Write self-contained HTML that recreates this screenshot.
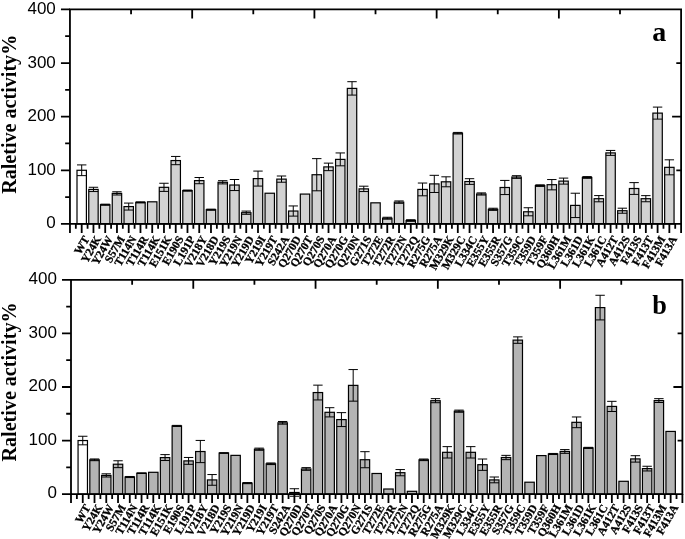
<!DOCTYPE html>
<html><head><meta charset="utf-8"><style>
html,body{margin:0;padding:0;background:#fff;}
body{width:685px;height:539px;overflow:hidden;}
svg{display:block;will-change:transform;}
.yl{font-family:"Liberation Sans",sans-serif;font-size:17px;text-anchor:end;fill:#000;}
.lt{font-family:"Liberation Serif",serif;font-weight:bold;font-size:28px;fill:#000;}
.yt{font-family:"Liberation Serif",serif;font-weight:bold;font-size:20.1px;fill:#000;}
.xl{font-family:"Liberation Serif",serif;font-weight:bold;font-size:11.5px;text-anchor:end;fill:#000;stroke:#000;stroke-width:0.3px;}
</style></head><body>
<svg width="685" height="539" viewBox="0 0 685 539">
<rect width="685" height="539" fill="#fff"/>
<rect x="77" y="170.28" width="9.4" height="53.62" fill="#fff" stroke="#000" stroke-width="1.2"/>
<rect x="88.76" y="189.42" width="9.4" height="34.48" fill="#d2d2d2" stroke="#000" stroke-width="1.2"/>
<rect x="100.51" y="204.7" width="9.4" height="19.2" fill="#d2d2d2" stroke="#000" stroke-width="1.2"/>
<rect x="112.26" y="193.39" width="9.4" height="30.51" fill="#d2d2d2" stroke="#000" stroke-width="1.2"/>
<rect x="124.01" y="206.58" width="9.4" height="17.32" fill="#d2d2d2" stroke="#000" stroke-width="1.2"/>
<rect x="135.77" y="202.4" width="9.4" height="21.5" fill="#d2d2d2" stroke="#000" stroke-width="1.2"/>
<rect x="147.52" y="201.81" width="9.4" height="22.09" fill="#d2d2d2" stroke="#000" stroke-width="1.2"/>
<rect x="159.27" y="187.33" width="9.4" height="36.57" fill="#d2d2d2" stroke="#000" stroke-width="1.2"/>
<rect x="171.03" y="160.57" width="9.4" height="63.33" fill="#d2d2d2" stroke="#000" stroke-width="1.2"/>
<rect x="182.78" y="190.6" width="9.4" height="33.3" fill="#d2d2d2" stroke="#000" stroke-width="1.2"/>
<rect x="194.53" y="180.62" width="9.4" height="43.28" fill="#d2d2d2" stroke="#000" stroke-width="1.2"/>
<rect x="206.28" y="209.69" width="9.4" height="14.21" fill="#d2d2d2" stroke="#000" stroke-width="1.2"/>
<rect x="218.04" y="182.29" width="9.4" height="41.61" fill="#d2d2d2" stroke="#000" stroke-width="1.2"/>
<rect x="229.79" y="185.02" width="9.4" height="38.88" fill="#d2d2d2" stroke="#000" stroke-width="1.2"/>
<rect x="241.54" y="212.69" width="9.4" height="11.21" fill="#d2d2d2" stroke="#000" stroke-width="1.2"/>
<rect x="253.3" y="178.59" width="9.4" height="45.31" fill="#d2d2d2" stroke="#000" stroke-width="1.2"/>
<rect x="265.05" y="193.23" width="9.4" height="30.67" fill="#d2d2d2" stroke="#000" stroke-width="1.2"/>
<rect x="276.8" y="179.12" width="9.4" height="44.78" fill="#d2d2d2" stroke="#000" stroke-width="1.2"/>
<rect x="288.55" y="211.03" width="9.4" height="12.87" fill="#d2d2d2" stroke="#000" stroke-width="1.2"/>
<rect x="300.31" y="194.08" width="9.4" height="29.82" fill="#d2d2d2" stroke="#000" stroke-width="1.2"/>
<rect x="312.06" y="174.73" width="9.4" height="49.17" fill="#d2d2d2" stroke="#000" stroke-width="1.2"/>
<rect x="323.81" y="166.9" width="9.4" height="57" fill="#d2d2d2" stroke="#000" stroke-width="1.2"/>
<rect x="335.57" y="159.39" width="9.4" height="64.51" fill="#d2d2d2" stroke="#000" stroke-width="1.2"/>
<rect x="347.32" y="88.39" width="9.4" height="135.51" fill="#d2d2d2" stroke="#000" stroke-width="1.2"/>
<rect x="359.07" y="188.88" width="9.4" height="35.02" fill="#d2d2d2" stroke="#000" stroke-width="1.2"/>
<rect x="370.82" y="202.83" width="9.4" height="21.07" fill="#d2d2d2" stroke="#000" stroke-width="1.2"/>
<rect x="382.58" y="218.22" width="9.4" height="5.68" fill="#d2d2d2" stroke="#000" stroke-width="1.2"/>
<rect x="394.33" y="202.13" width="9.4" height="21.77" fill="#d2d2d2" stroke="#000" stroke-width="1.2"/>
<rect x="406.08" y="220.52" width="9.4" height="3.38" fill="#d2d2d2" stroke="#000" stroke-width="1.2"/>
<rect x="417.84" y="189.42" width="9.4" height="34.48" fill="#d2d2d2" stroke="#000" stroke-width="1.2"/>
<rect x="429.59" y="183.9" width="9.4" height="40" fill="#d2d2d2" stroke="#000" stroke-width="1.2"/>
<rect x="441.34" y="181.8" width="9.4" height="42.1" fill="#d2d2d2" stroke="#000" stroke-width="1.2"/>
<rect x="453.1" y="133.22" width="9.4" height="90.68" fill="#d2d2d2" stroke="#000" stroke-width="1.2"/>
<rect x="464.85" y="181.54" width="9.4" height="42.36" fill="#d2d2d2" stroke="#000" stroke-width="1.2"/>
<rect x="476.6" y="193.98" width="9.4" height="29.92" fill="#d2d2d2" stroke="#000" stroke-width="1.2"/>
<rect x="488.35" y="209.31" width="9.4" height="14.59" fill="#d2d2d2" stroke="#000" stroke-width="1.2"/>
<rect x="500.11" y="187.49" width="9.4" height="36.41" fill="#d2d2d2" stroke="#000" stroke-width="1.2"/>
<rect x="511.86" y="177.03" width="9.4" height="46.87" fill="#d2d2d2" stroke="#000" stroke-width="1.2"/>
<rect x="523.61" y="211.78" width="9.4" height="12.12" fill="#d2d2d2" stroke="#000" stroke-width="1.2"/>
<rect x="535.37" y="185.61" width="9.4" height="38.29" fill="#d2d2d2" stroke="#000" stroke-width="1.2"/>
<rect x="547.12" y="184.7" width="9.4" height="39.2" fill="#d2d2d2" stroke="#000" stroke-width="1.2"/>
<rect x="558.87" y="181.11" width="9.4" height="42.79" fill="#d2d2d2" stroke="#000" stroke-width="1.2"/>
<rect x="570.62" y="205.4" width="9.4" height="18.5" fill="#d2d2d2" stroke="#000" stroke-width="1.2"/>
<rect x="582.38" y="177.46" width="9.4" height="46.44" fill="#d2d2d2" stroke="#000" stroke-width="1.2"/>
<rect x="594.13" y="198.7" width="9.4" height="25.2" fill="#d2d2d2" stroke="#000" stroke-width="1.2"/>
<rect x="605.88" y="152.9" width="9.4" height="71" fill="#d2d2d2" stroke="#000" stroke-width="1.2"/>
<rect x="617.64" y="210.71" width="9.4" height="13.19" fill="#d2d2d2" stroke="#000" stroke-width="1.2"/>
<rect x="629.39" y="188.51" width="9.4" height="35.39" fill="#d2d2d2" stroke="#000" stroke-width="1.2"/>
<rect x="641.14" y="198.7" width="9.4" height="25.2" fill="#d2d2d2" stroke="#000" stroke-width="1.2"/>
<rect x="652.89" y="113.11" width="9.4" height="110.79" fill="#d2d2d2" stroke="#000" stroke-width="1.2"/>
<rect x="664.65" y="167.33" width="9.4" height="56.57" fill="#d2d2d2" stroke="#000" stroke-width="1.2"/>
<path d="M81.7 164.91V175.64M77 164.91H86.4M77 175.64H86.4" stroke="#000" stroke-width="1.0" fill="none"/>
<path d="M93.46 187.27V191.56M88.76 187.27H98.16M88.76 191.56H98.16" stroke="#000" stroke-width="1.0" fill="none"/>
<path d="M105.21 204.17V205.24M100.51 204.17H109.91M100.51 205.24H109.91" stroke="#000" stroke-width="1.0" fill="none"/>
<path d="M116.96 191.78V195M112.26 191.78H121.66M112.26 195H121.66" stroke="#000" stroke-width="1.0" fill="none"/>
<path d="M128.71 203.09V210.06M124.01 203.09H133.41M124.01 210.06H133.41" stroke="#000" stroke-width="1.0" fill="none"/>
<path d="M140.47 201.86V202.93M135.77 201.86H145.17M135.77 202.93H145.17" stroke="#000" stroke-width="1.0" fill="none"/>
<path d="M163.97 183.25V191.4M159.27 183.25H168.67M159.27 191.4H168.67" stroke="#000" stroke-width="1.0" fill="none"/>
<path d="M175.73 156.44V164.7M171.03 156.44H180.43M171.03 164.7H180.43" stroke="#000" stroke-width="1.0" fill="none"/>
<path d="M187.48 190.06V191.14M182.78 190.06H192.18M182.78 191.14H192.18" stroke="#000" stroke-width="1.0" fill="none"/>
<path d="M199.23 177.51V183.73M194.53 177.51H203.93M194.53 183.73H203.93" stroke="#000" stroke-width="1.0" fill="none"/>
<path d="M210.98 209.15V210.23M206.28 209.15H215.68M206.28 210.23H215.68" stroke="#000" stroke-width="1.0" fill="none"/>
<path d="M222.74 180.68V183.9M218.04 180.68H227.44M218.04 183.9H227.44" stroke="#000" stroke-width="1.0" fill="none"/>
<path d="M234.49 179.5V190.55M229.79 179.5H239.19M229.79 190.55H239.19" stroke="#000" stroke-width="1.0" fill="none"/>
<path d="M246.24 211.08V214.3M241.54 211.08H250.94M241.54 214.3H250.94" stroke="#000" stroke-width="1.0" fill="none"/>
<path d="M258 171.08V186.09M253.3 171.08H262.7M253.3 186.09H262.7" stroke="#000" stroke-width="1.0" fill="none"/>
<path d="M281.5 176.01V182.23M276.8 176.01H286.2M276.8 182.23H286.2" stroke="#000" stroke-width="1.0" fill="none"/>
<path d="M293.25 205.94V216.12M288.55 205.94H297.95M288.55 216.12H297.95" stroke="#000" stroke-width="1.0" fill="none"/>
<path d="M316.76 158.64V190.81M312.06 158.64H321.46M312.06 190.81H321.46" stroke="#000" stroke-width="1.0" fill="none"/>
<path d="M328.51 163.14V170.65M323.81 163.14H333.21M323.81 170.65H333.21" stroke="#000" stroke-width="1.0" fill="none"/>
<path d="M340.27 152.95V165.82M335.57 152.95H344.97M335.57 165.82H344.97" stroke="#000" stroke-width="1.0" fill="none"/>
<path d="M352.02 81.69V95.09M347.32 81.69H356.72M347.32 95.09H356.72" stroke="#000" stroke-width="1.0" fill="none"/>
<path d="M363.77 186.2V191.56M359.07 186.2H368.47M359.07 191.56H368.47" stroke="#000" stroke-width="1.0" fill="none"/>
<path d="M387.28 217.25V219.18M382.58 217.25H391.98M382.58 219.18H391.98" stroke="#000" stroke-width="1.0" fill="none"/>
<path d="M399.03 200.95V203.31M394.33 200.95H403.73M394.33 203.31H403.73" stroke="#000" stroke-width="1.0" fill="none"/>
<path d="M410.78 219.72V221.33M406.08 219.72H415.48M406.08 221.33H415.48" stroke="#000" stroke-width="1.0" fill="none"/>
<path d="M422.54 183.04V195.8M417.84 183.04H427.24M417.84 195.8H427.24" stroke="#000" stroke-width="1.0" fill="none"/>
<path d="M434.29 175.32V192.48M429.59 175.32H438.99M429.59 192.48H438.99" stroke="#000" stroke-width="1.0" fill="none"/>
<path d="M446.04 176.82V186.79M441.34 176.82H450.74M441.34 186.79H450.74" stroke="#000" stroke-width="1.0" fill="none"/>
<path d="M457.8 132.42V134.02M453.1 132.42H462.5M453.1 134.02H462.5" stroke="#000" stroke-width="1.0" fill="none"/>
<path d="M469.55 178.69V184.38M464.85 178.69H474.25M464.85 184.38H474.25" stroke="#000" stroke-width="1.0" fill="none"/>
<path d="M481.3 192.9V195.05M476.6 192.9H486M476.6 195.05H486" stroke="#000" stroke-width="1.0" fill="none"/>
<path d="M493.05 208.24V210.39M488.35 208.24H497.75M488.35 210.39H497.75" stroke="#000" stroke-width="1.0" fill="none"/>
<path d="M504.81 180.41V194.57M500.11 180.41H509.51M500.11 194.57H509.51" stroke="#000" stroke-width="1.0" fill="none"/>
<path d="M516.56 175.69V178.37M511.86 175.69H521.26M511.86 178.37H521.26" stroke="#000" stroke-width="1.0" fill="none"/>
<path d="M528.31 207.76V215.8M523.61 207.76H533.01M523.61 215.8H533.01" stroke="#000" stroke-width="1.0" fill="none"/>
<path d="M540.07 184.81V186.42M535.37 184.81H544.77M535.37 186.42H544.77" stroke="#000" stroke-width="1.0" fill="none"/>
<path d="M551.82 179.55V189.85M547.12 179.55H556.52M547.12 189.85H556.52" stroke="#000" stroke-width="1.0" fill="none"/>
<path d="M563.57 178.1V184.11M558.87 178.1H568.27M558.87 184.11H568.27" stroke="#000" stroke-width="1.0" fill="none"/>
<path d="M575.32 193.23V217.57M570.62 193.23H580.02M570.62 217.57H580.02" stroke="#000" stroke-width="1.0" fill="none"/>
<path d="M587.08 176.6V178.32M582.38 176.6H591.78M582.38 178.32H591.78" stroke="#000" stroke-width="1.0" fill="none"/>
<path d="M598.83 195.59V201.81M594.13 195.59H603.53M594.13 201.81H603.53" stroke="#000" stroke-width="1.0" fill="none"/>
<path d="M610.58 150.43V155.37M605.88 150.43H615.28M605.88 155.37H615.28" stroke="#000" stroke-width="1.0" fill="none"/>
<path d="M622.34 208.19V213.23M617.64 208.19H627.04M617.64 213.23H627.04" stroke="#000" stroke-width="1.0" fill="none"/>
<path d="M634.09 182.61V194.41M629.39 182.61H638.79M629.39 194.41H638.79" stroke="#000" stroke-width="1.0" fill="none"/>
<path d="M645.84 195.64V201.75M641.14 195.64H650.54M641.14 201.75H650.54" stroke="#000" stroke-width="1.0" fill="none"/>
<path d="M657.59 107.1V119.12M652.89 107.1H662.29M652.89 119.12H662.29" stroke="#000" stroke-width="1.0" fill="none"/>
<path d="M669.35 159.82V174.83M664.65 159.82H674.05M664.65 174.83H674.05" stroke="#000" stroke-width="1.0" fill="none"/>
<path d="M69.95 9.4H681.1V223.9H69.95Z" stroke="#000" stroke-width="1.8" fill="none" stroke-linecap="square"/>
<path d="M69.95 223.9H60.95M69.95 197.09H65.15M69.95 170.28H60.95M69.95 143.46H65.15M69.95 116.65H60.95M69.95 89.84H65.15M69.95 63.03H60.95M69.95 36.21H65.15M69.95 9.4H60.95M681.1 170.28H676.3M681.1 116.65H672.1M681.1 63.03H676.3M69.95 223.9V232.9M75.83 223.9V228.7M81.7 223.9V232.9M87.58 223.9V228.7M93.46 223.9V232.9M99.33 223.9V228.7M105.21 223.9V232.9M111.09 223.9V228.7M116.96 223.9V232.9M122.84 223.9V228.7M128.71 223.9V232.9M134.59 223.9V228.7M140.47 223.9V232.9M146.34 223.9V228.7M152.22 223.9V232.9M158.1 223.9V228.7M163.97 223.9V232.9M169.85 223.9V228.7M175.73 223.9V232.9M181.6 223.9V228.7M187.48 223.9V232.9M193.36 223.9V228.7M199.23 223.9V232.9M205.11 223.9V228.7M210.98 223.9V232.9M216.86 223.9V228.7M222.74 223.9V232.9M228.61 223.9V228.7M234.49 223.9V232.9M240.37 223.9V228.7M246.24 223.9V232.9M252.12 223.9V228.7M258 223.9V232.9M263.87 223.9V228.7M269.75 223.9V232.9M275.63 223.9V228.7M281.5 223.9V232.9M287.38 223.9V228.7M293.25 223.9V232.9M299.13 223.9V228.7M305.01 223.9V232.9M310.88 223.9V228.7M316.76 223.9V232.9M322.64 223.9V228.7M328.51 223.9V232.9M334.39 223.9V228.7M340.27 223.9V232.9M346.14 223.9V228.7M352.02 223.9V232.9M357.9 223.9V228.7M363.77 223.9V232.9M369.65 223.9V228.7M375.52 223.9V232.9M381.4 223.9V228.7M387.28 223.9V232.9M393.15 223.9V228.7M399.03 223.9V232.9M404.91 223.9V228.7M410.78 223.9V232.9M416.66 223.9V228.7M422.54 223.9V232.9M428.41 223.9V228.7M434.29 223.9V232.9M440.17 223.9V228.7M446.04 223.9V232.9M451.92 223.9V228.7M457.8 223.9V232.9M463.67 223.9V228.7M469.55 223.9V232.9M475.42 223.9V228.7M481.3 223.9V232.9M487.18 223.9V228.7M493.05 223.9V232.9M498.93 223.9V228.7M504.81 223.9V232.9M510.68 223.9V228.7M516.56 223.9V232.9M522.44 223.9V228.7M528.31 223.9V232.9M534.19 223.9V228.7M540.07 223.9V232.9M545.94 223.9V228.7M551.82 223.9V232.9M557.69 223.9V228.7M563.57 223.9V232.9M569.45 223.9V228.7M575.32 223.9V232.9M581.2 223.9V228.7M587.08 223.9V232.9M592.95 223.9V228.7M598.83 223.9V232.9M604.71 223.9V228.7M610.58 223.9V232.9M616.46 223.9V228.7M622.34 223.9V232.9M628.21 223.9V228.7M634.09 223.9V232.9M639.96 223.9V228.7M645.84 223.9V232.9M651.72 223.9V228.7M657.59 223.9V232.9M663.47 223.9V228.7M669.35 223.9V232.9M675.22 223.9V228.7M681.1 223.9V232.9M131.06 9.4V14.2M192.18 9.4V18.4M253.29 9.4V14.2M314.41 9.4V18.4M375.52 9.4V14.2M436.64 9.4V18.4M497.75 9.4V14.2M558.87 9.4V18.4M619.99 9.4V14.2" stroke="#000" stroke-width="1.8" fill="none"/>
<text x="55.8" y="228.4" class="yl">0</text>
<text x="55.8" y="174.78" class="yl">100</text>
<text x="55.8" y="121.15" class="yl">200</text>
<text x="55.8" y="67.53" class="yl">300</text>
<text x="55.8" y="13.9" class="yl">400</text>
<text transform="translate(652.3 41.2) scale(1.0 1)" class="lt">a</text>
<text transform="translate(15.8 193.8) rotate(-90)" class="yt">Raletive activity%</text>
<text transform="translate(89.8 238.75) rotate(-60)" class="xl">WT</text>
<text transform="translate(101.56 238.75) rotate(-60)" class="xl">Y24K</text>
<text transform="translate(113.31 238.75) rotate(-60)" class="xl">Y24W</text>
<text transform="translate(125.06 238.75) rotate(-60)" class="xl">S57M</text>
<text transform="translate(136.81 238.75) rotate(-60)" class="xl">T114N</text>
<text transform="translate(148.57 238.75) rotate(-60)" class="xl">T114R</text>
<text transform="translate(160.32 238.75) rotate(-60)" class="xl">T114K</text>
<text transform="translate(172.07 238.75) rotate(-60)" class="xl">E151K</text>
<text transform="translate(183.83 238.75) rotate(-60)" class="xl">E190S</text>
<text transform="translate(195.58 238.75) rotate(-60)" class="xl">L191P</text>
<text transform="translate(207.33 238.75) rotate(-60)" class="xl">V218Y</text>
<text transform="translate(219.08 238.75) rotate(-60)" class="xl">V218D</text>
<text transform="translate(230.84 238.75) rotate(-60)" class="xl">Y219S</text>
<text transform="translate(242.59 238.75) rotate(-60)" class="xl">Y219N</text>
<text transform="translate(254.34 238.75) rotate(-60)" class="xl">Y219D</text>
<text transform="translate(266.1 238.75) rotate(-60)" class="xl">Y219I</text>
<text transform="translate(277.85 238.75) rotate(-60)" class="xl">Y219T</text>
<text transform="translate(289.6 238.75) rotate(-60)" class="xl">S242A</text>
<text transform="translate(301.35 238.75) rotate(-60)" class="xl">Q270D</text>
<text transform="translate(313.11 238.75) rotate(-60)" class="xl">Q270T</text>
<text transform="translate(324.86 238.75) rotate(-60)" class="xl">Q270S</text>
<text transform="translate(336.61 238.75) rotate(-60)" class="xl">Q270A</text>
<text transform="translate(348.37 238.75) rotate(-60)" class="xl">Q270G</text>
<text transform="translate(360.12 238.75) rotate(-60)" class="xl">Q270N</text>
<text transform="translate(371.87 238.75) rotate(-60)" class="xl">G271S</text>
<text transform="translate(383.62 238.75) rotate(-60)" class="xl">T272E</text>
<text transform="translate(395.38 238.75) rotate(-60)" class="xl">T272R</text>
<text transform="translate(407.13 238.75) rotate(-60)" class="xl">T272N</text>
<text transform="translate(418.88 238.75) rotate(-60)" class="xl">T272Q</text>
<text transform="translate(430.64 238.75) rotate(-60)" class="xl">R275G</text>
<text transform="translate(442.39 238.75) rotate(-60)" class="xl">R275A</text>
<text transform="translate(454.14 238.75) rotate(-60)" class="xl">M329K</text>
<text transform="translate(465.9 238.75) rotate(-60)" class="xl">M329C</text>
<text transform="translate(477.65 238.75) rotate(-60)" class="xl">L334C</text>
<text transform="translate(489.4 238.75) rotate(-60)" class="xl">E355Y</text>
<text transform="translate(501.15 238.75) rotate(-60)" class="xl">E355R</text>
<text transform="translate(512.91 238.75) rotate(-60)" class="xl">S357G</text>
<text transform="translate(524.66 238.75) rotate(-60)" class="xl">T359C</text>
<text transform="translate(536.41 238.75) rotate(-60)" class="xl">T359D</text>
<text transform="translate(548.17 238.75) rotate(-60)" class="xl">T359F</text>
<text transform="translate(559.92 238.75) rotate(-60)" class="xl">Q360H</text>
<text transform="translate(571.67 238.75) rotate(-60)" class="xl">L361M</text>
<text transform="translate(583.42 238.75) rotate(-60)" class="xl">L361D</text>
<text transform="translate(595.18 238.75) rotate(-60)" class="xl">L361K</text>
<text transform="translate(606.93 238.75) rotate(-60)" class="xl">L361C</text>
<text transform="translate(618.68 238.75) rotate(-60)" class="xl">A412T</text>
<text transform="translate(630.44 238.75) rotate(-60)" class="xl">A412S</text>
<text transform="translate(642.19 238.75) rotate(-60)" class="xl">F413S</text>
<text transform="translate(653.94 238.75) rotate(-60)" class="xl">F413T</text>
<text transform="translate(665.69 238.75) rotate(-60)" class="xl">F413M</text>
<text transform="translate(677.45 238.75) rotate(-60)" class="xl">F413A</text>
<rect x="78.06" y="440.54" width="9.4" height="53.56" fill="#fff" stroke="#000" stroke-width="1.2"/>
<rect x="89.82" y="459.82" width="9.4" height="34.28" fill="#b4b4b4" stroke="#000" stroke-width="1.2"/>
<rect x="101.57" y="475.41" width="9.4" height="18.69" fill="#b4b4b4" stroke="#000" stroke-width="1.2"/>
<rect x="113.33" y="464.21" width="9.4" height="29.89" fill="#b4b4b4" stroke="#000" stroke-width="1.2"/>
<rect x="125.09" y="477.01" width="9.4" height="17.09" fill="#b4b4b4" stroke="#000" stroke-width="1.2"/>
<rect x="136.85" y="473.21" width="9.4" height="20.89" fill="#b4b4b4" stroke="#000" stroke-width="1.2"/>
<rect x="148.6" y="472.3" width="9.4" height="21.8" fill="#b4b4b4" stroke="#000" stroke-width="1.2"/>
<rect x="160.36" y="457.57" width="9.4" height="36.53" fill="#b4b4b4" stroke="#000" stroke-width="1.2"/>
<rect x="172.12" y="425.91" width="9.4" height="68.19" fill="#b4b4b4" stroke="#000" stroke-width="1.2"/>
<rect x="183.88" y="460.89" width="9.4" height="33.21" fill="#b4b4b4" stroke="#000" stroke-width="1.2"/>
<rect x="195.63" y="451.52" width="9.4" height="42.58" fill="#b4b4b4" stroke="#000" stroke-width="1.2"/>
<rect x="207.39" y="479.91" width="9.4" height="14.19" fill="#b4b4b4" stroke="#000" stroke-width="1.2"/>
<rect x="219.15" y="453.02" width="9.4" height="41.08" fill="#b4b4b4" stroke="#000" stroke-width="1.2"/>
<rect x="230.91" y="455.37" width="9.4" height="38.73" fill="#b4b4b4" stroke="#000" stroke-width="1.2"/>
<rect x="242.67" y="483.12" width="9.4" height="10.98" fill="#b4b4b4" stroke="#000" stroke-width="1.2"/>
<rect x="254.42" y="449.21" width="9.4" height="44.89" fill="#b4b4b4" stroke="#000" stroke-width="1.2"/>
<rect x="266.18" y="463.78" width="9.4" height="30.32" fill="#b4b4b4" stroke="#000" stroke-width="1.2"/>
<rect x="277.94" y="422.81" width="9.4" height="71.29" fill="#b4b4b4" stroke="#000" stroke-width="1.2"/>
<rect x="289.7" y="492.49" width="9.4" height="1.61" fill="#b4b4b4" stroke="#000" stroke-width="1.2"/>
<rect x="301.45" y="468.98" width="9.4" height="25.12" fill="#b4b4b4" stroke="#000" stroke-width="1.2"/>
<rect x="313.21" y="392.55" width="9.4" height="101.55" fill="#b4b4b4" stroke="#000" stroke-width="1.2"/>
<rect x="324.97" y="412.31" width="9.4" height="81.79" fill="#b4b4b4" stroke="#000" stroke-width="1.2"/>
<rect x="336.73" y="419.59" width="9.4" height="74.51" fill="#b4b4b4" stroke="#000" stroke-width="1.2"/>
<rect x="348.48" y="385.37" width="9.4" height="108.73" fill="#b4b4b4" stroke="#000" stroke-width="1.2"/>
<rect x="360.24" y="459.71" width="9.4" height="34.39" fill="#b4b4b4" stroke="#000" stroke-width="1.2"/>
<rect x="372" y="473.48" width="9.4" height="20.62" fill="#b4b4b4" stroke="#000" stroke-width="1.2"/>
<rect x="383.76" y="489.01" width="9.4" height="5.09" fill="#b4b4b4" stroke="#000" stroke-width="1.2"/>
<rect x="395.52" y="472.68" width="9.4" height="21.43" fill="#b4b4b4" stroke="#000" stroke-width="1.2"/>
<rect x="407.27" y="491.31" width="9.4" height="2.79" fill="#b4b4b4" stroke="#000" stroke-width="1.2"/>
<rect x="419.03" y="459.82" width="9.4" height="34.28" fill="#b4b4b4" stroke="#000" stroke-width="1.2"/>
<rect x="430.79" y="400.69" width="9.4" height="93.41" fill="#b4b4b4" stroke="#000" stroke-width="1.2"/>
<rect x="442.55" y="452.32" width="9.4" height="41.78" fill="#b4b4b4" stroke="#000" stroke-width="1.2"/>
<rect x="454.3" y="411.19" width="9.4" height="82.91" fill="#b4b4b4" stroke="#000" stroke-width="1.2"/>
<rect x="466.06" y="452.32" width="9.4" height="41.78" fill="#b4b4b4" stroke="#000" stroke-width="1.2"/>
<rect x="477.82" y="464.69" width="9.4" height="29.41" fill="#b4b4b4" stroke="#000" stroke-width="1.2"/>
<rect x="489.58" y="479.91" width="9.4" height="14.19" fill="#b4b4b4" stroke="#000" stroke-width="1.2"/>
<rect x="501.33" y="457.52" width="9.4" height="36.58" fill="#b4b4b4" stroke="#000" stroke-width="1.2"/>
<rect x="513.09" y="340.11" width="9.4" height="153.99" fill="#b4b4b4" stroke="#000" stroke-width="1.2"/>
<rect x="524.85" y="482.21" width="9.4" height="11.89" fill="#b4b4b4" stroke="#000" stroke-width="1.2"/>
<rect x="536.61" y="455.59" width="9.4" height="38.51" fill="#b4b4b4" stroke="#000" stroke-width="1.2"/>
<rect x="548.37" y="453.98" width="9.4" height="40.12" fill="#b4b4b4" stroke="#000" stroke-width="1.2"/>
<rect x="560.12" y="451.46" width="9.4" height="42.64" fill="#b4b4b4" stroke="#000" stroke-width="1.2"/>
<rect x="571.88" y="422.33" width="9.4" height="71.77" fill="#b4b4b4" stroke="#000" stroke-width="1.2"/>
<rect x="583.64" y="447.88" width="9.4" height="46.22" fill="#b4b4b4" stroke="#000" stroke-width="1.2"/>
<rect x="595.4" y="307.6" width="9.4" height="186.5" fill="#b4b4b4" stroke="#000" stroke-width="1.2"/>
<rect x="607.15" y="406.42" width="9.4" height="87.68" fill="#b4b4b4" stroke="#000" stroke-width="1.2"/>
<rect x="618.91" y="481.3" width="9.4" height="12.8" fill="#b4b4b4" stroke="#000" stroke-width="1.2"/>
<rect x="630.67" y="458.91" width="9.4" height="35.19" fill="#b4b4b4" stroke="#000" stroke-width="1.2"/>
<rect x="642.43" y="468.6" width="9.4" height="25.5" fill="#b4b4b4" stroke="#000" stroke-width="1.2"/>
<rect x="654.18" y="400.58" width="9.4" height="93.52" fill="#b4b4b4" stroke="#000" stroke-width="1.2"/>
<rect x="665.94" y="431.43" width="9.4" height="62.67" fill="#b4b4b4" stroke="#000" stroke-width="1.2"/>
<path d="M82.76 436.25V444.82M78.06 436.25H87.46M78.06 444.82H87.46" stroke="#000" stroke-width="1.0" fill="none"/>
<path d="M94.52 458.96V460.68M89.82 458.96H99.22M89.82 460.68H99.22" stroke="#000" stroke-width="1.0" fill="none"/>
<path d="M106.27 473.8V477.01M101.57 473.8H110.97M101.57 477.01H110.97" stroke="#000" stroke-width="1.0" fill="none"/>
<path d="M118.03 460.78V467.64M113.33 460.78H122.73M113.33 467.64H122.73" stroke="#000" stroke-width="1.0" fill="none"/>
<path d="M129.79 476.48V477.55M125.09 476.48H134.49M125.09 477.55H134.49" stroke="#000" stroke-width="1.0" fill="none"/>
<path d="M141.55 472.94V473.48M136.85 472.94H146.25M136.85 473.48H146.25" stroke="#000" stroke-width="1.0" fill="none"/>
<path d="M165.06 454.62V460.52M160.36 454.62H169.76M160.36 460.52H169.76" stroke="#000" stroke-width="1.0" fill="none"/>
<path d="M176.82 425.38V426.45M172.12 425.38H181.52M172.12 426.45H181.52" stroke="#000" stroke-width="1.0" fill="none"/>
<path d="M188.58 457.46V464.32M183.88 457.46H193.28M183.88 464.32H193.28" stroke="#000" stroke-width="1.0" fill="none"/>
<path d="M200.33 440.43V462.61M195.63 440.43H205.03M195.63 462.61H205.03" stroke="#000" stroke-width="1.0" fill="none"/>
<path d="M212.09 474.55V485.26M207.39 474.55H216.79M207.39 485.26H216.79" stroke="#000" stroke-width="1.0" fill="none"/>
<path d="M223.85 452.75V453.29M219.15 452.75H228.55M219.15 453.29H228.55" stroke="#000" stroke-width="1.0" fill="none"/>
<path d="M247.37 482.58V483.66M242.67 482.58H252.07M242.67 483.66H252.07" stroke="#000" stroke-width="1.0" fill="none"/>
<path d="M259.12 448.14V450.29M254.42 448.14H263.82M254.42 450.29H263.82" stroke="#000" stroke-width="1.0" fill="none"/>
<path d="M270.88 462.98V464.59M266.18 462.98H275.58M266.18 464.59H275.58" stroke="#000" stroke-width="1.0" fill="none"/>
<path d="M282.64 421.47V424.15M277.94 421.47H287.34M277.94 424.15H287.34" stroke="#000" stroke-width="1.0" fill="none"/>
<path d="M294.4 488.74V496.24M289.7 488.74H299.1M289.7 496.24H299.1" stroke="#000" stroke-width="1.0" fill="none"/>
<path d="M306.15 467.64V470.32M301.45 467.64H310.85M301.45 470.32H310.85" stroke="#000" stroke-width="1.0" fill="none"/>
<path d="M317.91 385.15V399.94M313.21 385.15H322.61M313.21 399.94H322.61" stroke="#000" stroke-width="1.0" fill="none"/>
<path d="M329.67 407.7V416.92M324.97 407.7H334.37M324.97 416.92H334.37" stroke="#000" stroke-width="1.0" fill="none"/>
<path d="M341.43 412.63V426.56M336.73 412.63H346.13M336.73 426.56H346.13" stroke="#000" stroke-width="1.0" fill="none"/>
<path d="M353.18 369.57V401.17M348.48 369.57H357.88M348.48 401.17H357.88" stroke="#000" stroke-width="1.0" fill="none"/>
<path d="M364.94 451.68V467.75M360.24 451.68H369.64M360.24 467.75H369.64" stroke="#000" stroke-width="1.0" fill="none"/>
<path d="M400.22 469.57V475.78M395.52 469.57H404.92M395.52 475.78H404.92" stroke="#000" stroke-width="1.0" fill="none"/>
<path d="M423.73 459.02V460.62M419.03 459.02H428.43M419.03 460.62H428.43" stroke="#000" stroke-width="1.0" fill="none"/>
<path d="M435.49 398.65V402.72M430.79 398.65H440.19M430.79 402.72H440.19" stroke="#000" stroke-width="1.0" fill="none"/>
<path d="M447.25 446.64V458M442.55 446.64H451.95M442.55 458H451.95" stroke="#000" stroke-width="1.0" fill="none"/>
<path d="M459 410.11V412.26M454.3 410.11H463.7M454.3 412.26H463.7" stroke="#000" stroke-width="1.0" fill="none"/>
<path d="M470.76 446.64V458M466.06 446.64H475.46M466.06 458H475.46" stroke="#000" stroke-width="1.0" fill="none"/>
<path d="M482.52 459.02V470.37M477.82 459.02H487.22M477.82 470.37H487.22" stroke="#000" stroke-width="1.0" fill="none"/>
<path d="M494.28 477.01V482.8M489.58 477.01H498.98M489.58 482.8H498.98" stroke="#000" stroke-width="1.0" fill="none"/>
<path d="M506.03 455.37V459.66M501.33 455.37H510.73M501.33 459.66H510.73" stroke="#000" stroke-width="1.0" fill="none"/>
<path d="M517.79 336.89V343.32M513.09 336.89H522.49M513.09 343.32H522.49" stroke="#000" stroke-width="1.0" fill="none"/>
<path d="M553.07 453.45V454.52M548.37 453.45H557.77M548.37 454.52H557.77" stroke="#000" stroke-width="1.0" fill="none"/>
<path d="M564.82 449.59V453.34M560.12 449.59H569.52M560.12 453.34H569.52" stroke="#000" stroke-width="1.0" fill="none"/>
<path d="M576.58 416.97V427.68M571.88 416.97H581.28M571.88 427.68H581.28" stroke="#000" stroke-width="1.0" fill="none"/>
<path d="M588.34 447.34V448.41M583.64 447.34H593.04M583.64 448.41H593.04" stroke="#000" stroke-width="1.0" fill="none"/>
<path d="M600.1 295.28V319.91M595.4 295.28H604.8M595.4 319.91H604.8" stroke="#000" stroke-width="1.0" fill="none"/>
<path d="M611.85 401.33V411.51M607.15 401.33H616.55M607.15 411.51H616.55" stroke="#000" stroke-width="1.0" fill="none"/>
<path d="M635.37 455.7V462.12M630.67 455.7H640.07M630.67 462.12H640.07" stroke="#000" stroke-width="1.0" fill="none"/>
<path d="M647.13 466.25V470.96M642.43 466.25H651.83M642.43 470.96H651.83" stroke="#000" stroke-width="1.0" fill="none"/>
<path d="M658.88 398.65V402.51M654.18 398.65H663.58M654.18 402.51H663.58" stroke="#000" stroke-width="1.0" fill="none"/>
<path d="M71 279.85H682.4V494.1H71Z" stroke="#000" stroke-width="1.8" fill="none" stroke-linecap="square"/>
<path d="M71 494.1H62M71 467.32H66.2M71 440.54H62M71 413.76H66.2M71 386.98H62M71 360.19H66.2M71 333.41H62M71 306.63H66.2M71 279.85H62M682.4 440.54H677.6M682.4 386.98H673.4M682.4 333.41H677.6M71 494.1V503.1M76.88 494.1V498.9M82.76 494.1V503.1M88.64 494.1V498.9M94.52 494.1V503.1M100.39 494.1V498.9M106.27 494.1V503.1M112.15 494.1V498.9M118.03 494.1V503.1M123.91 494.1V498.9M129.79 494.1V503.1M135.67 494.1V498.9M141.55 494.1V503.1M147.43 494.1V498.9M153.3 494.1V503.1M159.18 494.1V498.9M165.06 494.1V503.1M170.94 494.1V498.9M176.82 494.1V503.1M182.7 494.1V498.9M188.58 494.1V503.1M194.46 494.1V498.9M200.33 494.1V503.1M206.21 494.1V498.9M212.09 494.1V503.1M217.97 494.1V498.9M223.85 494.1V503.1M229.73 494.1V498.9M235.61 494.1V503.1M241.49 494.1V498.9M247.37 494.1V503.1M253.24 494.1V498.9M259.12 494.1V503.1M265 494.1V498.9M270.88 494.1V503.1M276.76 494.1V498.9M282.64 494.1V503.1M288.52 494.1V498.9M294.4 494.1V503.1M300.27 494.1V498.9M306.15 494.1V503.1M312.03 494.1V498.9M317.91 494.1V503.1M323.79 494.1V498.9M329.67 494.1V503.1M335.55 494.1V498.9M341.43 494.1V503.1M347.31 494.1V498.9M353.18 494.1V503.1M359.06 494.1V498.9M364.94 494.1V503.1M370.82 494.1V498.9M376.7 494.1V503.1M382.58 494.1V498.9M388.46 494.1V503.1M394.34 494.1V498.9M400.22 494.1V503.1M406.09 494.1V498.9M411.97 494.1V503.1M417.85 494.1V498.9M423.73 494.1V503.1M429.61 494.1V498.9M435.49 494.1V503.1M441.37 494.1V498.9M447.25 494.1V503.1M453.12 494.1V498.9M459 494.1V503.1M464.88 494.1V498.9M470.76 494.1V503.1M476.64 494.1V498.9M482.52 494.1V503.1M488.4 494.1V498.9M494.28 494.1V503.1M500.16 494.1V498.9M506.03 494.1V503.1M511.91 494.1V498.9M517.79 494.1V503.1M523.67 494.1V498.9M529.55 494.1V503.1M535.43 494.1V498.9M541.31 494.1V503.1M547.19 494.1V498.9M553.07 494.1V503.1M558.94 494.1V498.9M564.82 494.1V503.1M570.7 494.1V498.9M576.58 494.1V503.1M582.46 494.1V498.9M588.34 494.1V503.1M594.22 494.1V498.9M600.1 494.1V503.1M605.98 494.1V498.9M611.85 494.1V503.1M617.73 494.1V498.9M623.61 494.1V503.1M629.49 494.1V498.9M635.37 494.1V503.1M641.25 494.1V498.9M647.13 494.1V503.1M653.01 494.1V498.9M658.88 494.1V503.1M664.76 494.1V498.9M670.64 494.1V503.1M676.52 494.1V498.9M682.4 494.1V503.1M132.14 279.85V284.65M193.28 279.85V288.85M254.42 279.85V284.65M315.56 279.85V288.85M376.7 279.85V284.65M437.84 279.85V288.85M498.98 279.85V284.65M560.12 279.85V288.85M621.26 279.85V284.65" stroke="#000" stroke-width="1.8" fill="none"/>
<text x="56.9" y="498.4" class="yl">0</text>
<text x="56.9" y="444.84" class="yl">100</text>
<text x="56.9" y="391.28" class="yl">200</text>
<text x="56.9" y="337.71" class="yl">300</text>
<text x="56.9" y="284.15" class="yl">400</text>
<text transform="translate(652.2 313.8) scale(0.94 1)" class="lt">b</text>
<text transform="translate(15.8 461.5) rotate(-90)" class="yt">Raletive activity%</text>
<text transform="translate(90.86 507.35) rotate(-60)" class="xl">WT</text>
<text transform="translate(102.62 507.35) rotate(-60)" class="xl">Y24K</text>
<text transform="translate(114.37 507.35) rotate(-60)" class="xl">Y24W</text>
<text transform="translate(126.13 507.35) rotate(-60)" class="xl">S57M</text>
<text transform="translate(137.89 507.35) rotate(-60)" class="xl">T114N</text>
<text transform="translate(149.65 507.35) rotate(-60)" class="xl">T114R</text>
<text transform="translate(161.4 507.35) rotate(-60)" class="xl">T114K</text>
<text transform="translate(173.16 507.35) rotate(-60)" class="xl">E151K</text>
<text transform="translate(184.92 507.35) rotate(-60)" class="xl">E190S</text>
<text transform="translate(196.68 507.35) rotate(-60)" class="xl">L191P</text>
<text transform="translate(208.43 507.35) rotate(-60)" class="xl">V218Y</text>
<text transform="translate(220.19 507.35) rotate(-60)" class="xl">V218D</text>
<text transform="translate(231.95 507.35) rotate(-60)" class="xl">Y219S</text>
<text transform="translate(243.71 507.35) rotate(-60)" class="xl">Y219N</text>
<text transform="translate(255.47 507.35) rotate(-60)" class="xl">Y219D</text>
<text transform="translate(267.22 507.35) rotate(-60)" class="xl">Y219I</text>
<text transform="translate(278.98 507.35) rotate(-60)" class="xl">Y219T</text>
<text transform="translate(290.74 507.35) rotate(-60)" class="xl">S242A</text>
<text transform="translate(302.5 507.35) rotate(-60)" class="xl">Q270D</text>
<text transform="translate(314.25 507.35) rotate(-60)" class="xl">Q270T</text>
<text transform="translate(326.01 507.35) rotate(-60)" class="xl">Q270S</text>
<text transform="translate(337.77 507.35) rotate(-60)" class="xl">Q270A</text>
<text transform="translate(349.53 507.35) rotate(-60)" class="xl">Q270G</text>
<text transform="translate(361.28 507.35) rotate(-60)" class="xl">Q270N</text>
<text transform="translate(373.04 507.35) rotate(-60)" class="xl">G271S</text>
<text transform="translate(384.8 507.35) rotate(-60)" class="xl">T272E</text>
<text transform="translate(396.56 507.35) rotate(-60)" class="xl">T272R</text>
<text transform="translate(408.32 507.35) rotate(-60)" class="xl">T272N</text>
<text transform="translate(420.07 507.35) rotate(-60)" class="xl">T272Q</text>
<text transform="translate(431.83 507.35) rotate(-60)" class="xl">R275G</text>
<text transform="translate(443.59 507.35) rotate(-60)" class="xl">R275A</text>
<text transform="translate(455.35 507.35) rotate(-60)" class="xl">M329K</text>
<text transform="translate(467.1 507.35) rotate(-60)" class="xl">M329C</text>
<text transform="translate(478.86 507.35) rotate(-60)" class="xl">L334C</text>
<text transform="translate(490.62 507.35) rotate(-60)" class="xl">E355Y</text>
<text transform="translate(502.38 507.35) rotate(-60)" class="xl">E355R</text>
<text transform="translate(514.13 507.35) rotate(-60)" class="xl">S357G</text>
<text transform="translate(525.89 507.35) rotate(-60)" class="xl">T359C</text>
<text transform="translate(537.65 507.35) rotate(-60)" class="xl">T359D</text>
<text transform="translate(549.41 507.35) rotate(-60)" class="xl">T359F</text>
<text transform="translate(561.17 507.35) rotate(-60)" class="xl">Q360H</text>
<text transform="translate(572.92 507.35) rotate(-60)" class="xl">L361M</text>
<text transform="translate(584.68 507.35) rotate(-60)" class="xl">L361D</text>
<text transform="translate(596.44 507.35) rotate(-60)" class="xl">L361K</text>
<text transform="translate(608.2 507.35) rotate(-60)" class="xl">L361C</text>
<text transform="translate(619.95 507.35) rotate(-60)" class="xl">A412T</text>
<text transform="translate(631.71 507.35) rotate(-60)" class="xl">A412S</text>
<text transform="translate(643.47 507.35) rotate(-60)" class="xl">F413S</text>
<text transform="translate(655.23 507.35) rotate(-60)" class="xl">F413T</text>
<text transform="translate(666.98 507.35) rotate(-60)" class="xl">F413M</text>
<text transform="translate(678.74 507.35) rotate(-60)" class="xl">F413A</text>
</svg>
</body></html>
